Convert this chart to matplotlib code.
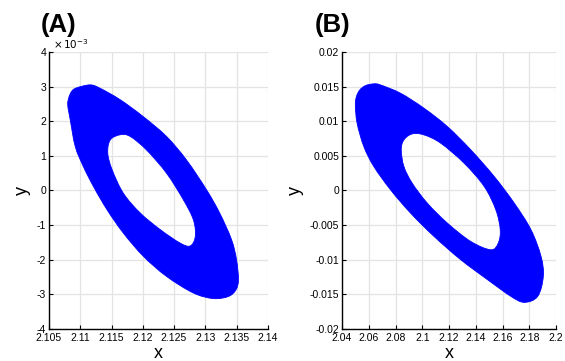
import numpy as np
import matplotlib
matplotlib.use("Agg")
import matplotlib.pyplot as plt
from matplotlib.path import Path
from matplotlib.patches import PathPatch

plt.rcParams['font.family'] = ['Liberation Sans', 'DejaVu Sans']
plt.rcParams['axes.unicode_minus'] = False

# panel A: outer / inner boundary of the orbit band
a_outer_x = [2.1080, 2.1084, 2.1092, 2.1105, 2.1121, 2.1143, 2.1169, 2.1201, 2.1238, 2.1281, 2.1313, 2.1337,
             2.1349, 2.1353, 2.1350, 2.1342, 2.1323, 2.1302, 2.1270, 2.1238, 2.1201, 2.1164, 2.1132, 2.1116,
             2.1095, 2.1087, 2.1082]
a_outer_y = [2.47, 2.04, 1.27, 0.69, 0.12, -0.56, -1.23, -1.90, -2.48, -2.96, -3.12, -3.06,
             -2.87, -2.58, -2.00, -1.42, -0.65, 0.02, 0.88, 1.56, 2.13, 2.62, 2.95, 3.05,
             2.97, 2.88, 2.70]
a_inner_x = [2.1164, 2.1148, 2.1144, 2.1151, 2.1169, 2.1196, 2.1228, 2.1260, 2.1276, 2.1284, 2.1281,
             2.1265, 2.1238, 2.1206, 2.1180]
a_inner_y = [1.61, 1.46, 1.08, 0.60, -0.08, -0.65, -1.13, -1.52, -1.60, -1.33, -0.85,
             -0.27, 0.50, 1.17, 1.56]

# panel B
b_outer_x = [2.0500, 2.0513, 2.0563, 2.0638, 2.0763, 2.0913, 2.1088, 2.1288, 2.1488, 2.1663, 2.1763, 2.1863,
             2.1905, 2.1888, 2.1813, 2.1688, 2.1538, 2.1363, 2.1188, 2.1013, 2.0838, 2.0688, 2.0638, 2.0575,
             2.0533, 2.0508]
b_outer_y = [0.0123, 0.00971, 0.00635, 0.00346, 0.0001, -0.00327, -0.00663, -0.0100, -0.01288, -0.01529, -0.01615,
             -0.01529, -0.0124, -0.00952, -0.00567, -0.00183, 0.00202, 0.00587, 0.00923, 0.01188, 0.01404, 0.01524,
             0.0154, 0.01514, 0.01452, 0.01356]
b_inner_x = [2.0925, 2.0863, 2.0843, 2.0863, 2.0925, 2.1038, 2.1188, 2.1363, 2.1513, 2.1568, 2.1583,
             2.1550, 2.1463, 2.1313, 2.1138, 2.1013]
b_inner_y = [0.00817, 0.00731, 0.00587, 0.00346, 0.00106, -0.00183, -0.00471, -0.00736, -0.00856, -0.0076,
             -0.00567, -0.00279, 0.00058, 0.00394, 0.00683, 0.00803]

a_xticks = [2.105, 2.11, 2.115, 2.12, 2.125, 2.13, 2.135, 2.14]
a_xlabels = ['2.105', '2.11', '2.115', '2.12', '2.125', '2.13', '2.135', '2.14']
a_yticks = [-4, -3, -2, -1, 0, 1, 2, 3, 4]
b_xticks = [2.04, 2.06, 2.08, 2.1, 2.12, 2.14, 2.16, 2.18, 2.2]
b_xlabels = ['2.04', '2.06', '2.08', '2.1', '2.12', '2.14', '2.16', '2.18', '2.2']
b_yticks = [-0.02, -0.015, -0.01, -0.005, 0, 0.005, 0.01, 0.015, 0.02]
b_ylabels = ['-0.02', '-0.015', '-0.01', '-0.005', '0', '0.005', '0.01', '0.015', '0.02']


def loop_path(xs, ys):
    # smooth closed curve through the points (Catmull-Rom as cubic Bezier segments)
    p = np.column_stack([xs, ys])
    n = len(p)
    verts = [p[0]]
    codes = [Path.MOVETO]
    for i in range(n):
        p0, p1, p2, p3 = p[i - 1], p[i], p[(i + 1) % n], p[(i + 2) % n]
        verts += [p1 + (p2 - p0) / 6, p2 - (p3 - p1) / 6, p2]
        codes += [Path.CURVE4] * 3
    verts.append(p[0])
    codes.append(Path.CLOSEPOLY)
    return Path(verts, codes)


def band(ax, ox, oy, ix, iy):
    outer = loop_path(ox, oy)
    inner = loop_path(ix[::-1], iy[::-1])
    path = Path.make_compound_path(outer, inner)
    ax.add_patch(PathPatch(path, facecolor='#0000ff', edgecolor='#0000ff',
                           linewidth=0.6, zorder=3))


def style(ax):
    for s in ['top', 'right']:
        ax.spines[s].set_visible(False)
    for s in ['left', 'bottom']:
        ax.spines[s].set_linewidth(1.0)
        ax.spines[s].set_zorder(5)
    ax.grid(True, color='#e3e3e3', linewidth=0.9, zorder=0)
    ax.set_axisbelow(True)
    ax.tick_params(direction='in', length=3, width=0.8, labelsize=7.5, pad=2, colors='black')
    ax.tick_params(axis='x', pad=3)
    ax.set_xlabel('x', fontsize=13, labelpad=1)
    ax.set_ylabel('y', fontsize=13, labelpad=4)


fig = plt.figure(figsize=(5.65, 3.61), dpi=100)
axA = fig.add_axes([0.0867, 0.0886, 0.3873, 0.7674])
axB = fig.add_axes([0.6053, 0.0886, 0.3788, 0.7674])

band(axA, a_outer_x, a_outer_y, a_inner_x, a_inner_y)
axA.set_xlim(2.105, 2.14)
axA.set_ylim(-4, 4)
axA.set_xticks(a_xticks)
axA.set_xticklabels(a_xlabels)
axA.set_yticks(a_yticks)
style(axA)
axA.text(0.02, 1.005, r'$\times\,10^{-3}$', transform=axA.transAxes, fontsize=7.5,
         ha='left', va='bottom')

band(axB, b_outer_x, b_outer_y, b_inner_x, b_inner_y)
axB.set_xlim(2.04, 2.2)
axB.set_ylim(-0.02, 0.02)
axB.set_xticks(b_xticks)
axB.set_xticklabels(b_xlabels)
axB.set_yticks(b_yticks)
axB.set_yticklabels(b_ylabels)
style(axB)

fig.text(41 / 565, 1 - 25 / 361, '(A)', fontsize=18.5, fontweight='bold', ha='left', va='center')
fig.text(315 / 565, 1 - 25 / 361, '(B)', fontsize=18.5, fontweight='bold', ha='left', va='center')

fig.savefig('out.png', dpi=100)
